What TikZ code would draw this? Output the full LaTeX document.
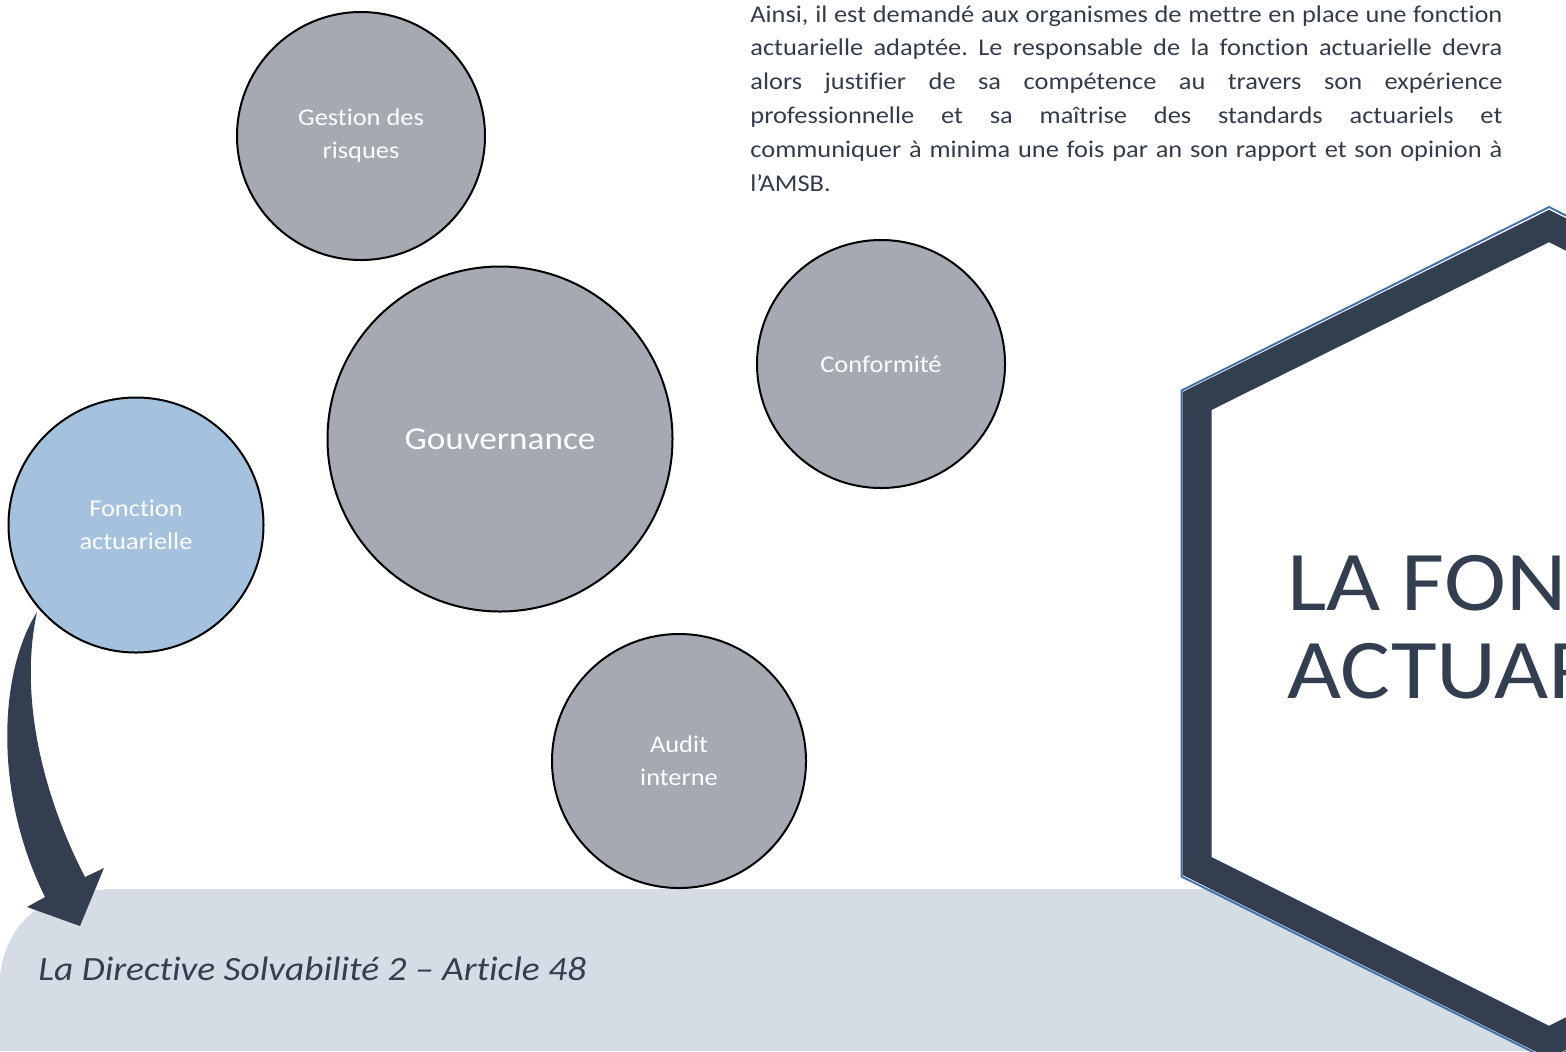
\documentclass[tikz,border=0pt]{standalone}
\usepackage{fontspec}
\setmainfont{Carlito}[FakeStretch=1.1,Ligatures=NoCommon]
\usepackage{tikz}
\usetikzlibrary{positioning,calc}

\definecolor{circGray}{RGB}{165,170,178}
\definecolor{circBlue}{RGB}{164,194,222}
\definecolor{darkSlate}{RGB}{51,63,80}
\definecolor{bandGray}{RGB}{214,220,229}
\definecolor{edgeBlue}{RGB}{68,114,170}
\definecolor{parText}{RGB}{52,60,74}

\tikzset{
  bubble/.style={circle,draw=black,line width=1pt,fill=circGray,text=white,
    align=center,inner sep=0pt,font=\fontsize{12}{16.5}\selectfont},
}

\frenchspacing
\begin{document}
\begin{tikzpicture}[x=0.5pt,y=-0.5pt]
            \clip (0,0) rectangle (1566,1051);

            % Bottom band
            \fill[bandGray] (0,1051) -- (0,975) .. controls (8,915) and (50,889) .. (120,889)
                -- (1566,889) -- (1566,1051) -- cycle;
            \node[anchor=base west,inner sep=0pt,text=darkSlate,
                font=\fontsize{17}{19}\selectfont\itshape] (source) at (38,980)
                {La Directive Solvabilité 2 – Article 48};

            % Hexagon
            \draw[edgeBlue,line width=1pt,line join=miter]
                (1549,207) -- (1181.5,390.5) -- (1181.5,876.5) -- (1549,1060)
                -- (1916,876) -- (1916,391) -- cycle;
            \filldraw[fill=white,draw=darkSlate,line width=14.5pt,line join=miter]
                (1549,226) -- (1197,401) -- (1197,866) -- (1549,1042)
                -- (1901,866) -- (1901,401) -- cycle;
            \node[anchor=base west,inner sep=0pt,text=darkSlate,align=left,
                font=\fontsize{42.5}{44}\selectfont] (title) at (1287,698)
                {LA FONCTION\\ACTUARIELLE};

            % Paragraph
            \node[anchor=north west,inner sep=0pt,text width=376pt,align=justify,
                text=parText,font=\fontsize{12}{16.9}\selectfont] (para) at (750,5)
                {Ainsi, il est demandé aux organismes de mettre en place une fonction\linebreak
                 actuarielle adaptée. Le responsable de la fonction actuarielle devra\linebreak
                 alors justifier de sa compétence au travers son expérience\linebreak
                 professionnelle et sa maîtrise des standards actuariels et\linebreak
                 communiquer à minima une fois par an son rapport et son opinion à\linebreak
                 l’AMSB.};

            % Curved arrow
            \fill[darkSlate] (37,612) .. controls (0,670) and (-8,790) .. (45,897)
                -- (27,907) -- (80,926) -- (104,868) -- (85,877)
                .. controls (45,800) and (18,700) .. (37,612) -- cycle;

            % Circles
            \node[bubble,minimum size=124pt] (gestion) at (361,136) {Gestion des\\risques};
            \node[bubble,minimum size=172.5pt,font=\fontsize{16}{19}\selectfont] (gouv) at (500,439) {Gouvernance};
            \node[bubble,minimum size=124pt] (conform) at (881,364) {Conformité};
            \node[bubble,minimum size=127.5pt,fill=circBlue] (fonction) at (136,525) {Fonction\\actuarielle};
            \node[bubble,minimum size=127pt] (audit) at (679,761) {Audit\\interne};

\end{tikzpicture}
\end{document}
